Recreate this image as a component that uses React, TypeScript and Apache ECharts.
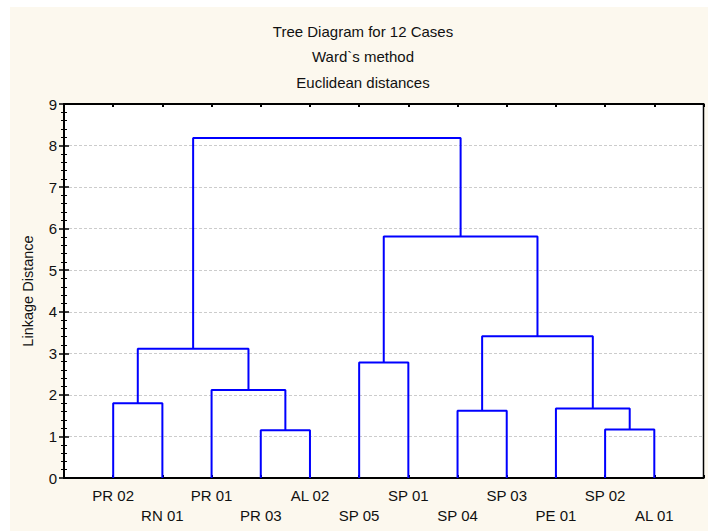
import React, { useEffect, useRef } from "react";
import * as echarts from "echarts";

const titleLines = ["Tree Diagram for 12 Cases", "Ward`s method", "Euclidean distances"];
const leaves = ["PR 02", "RN 01", "PR 01", "PR 03", "AL 02", "SP 05", "SP 01", "SP 04", "SP 03", "PE 01", "SP 02", "AL 01"];
// merges: cluster ids 0..11 are leaves, merge k creates cluster 12+k
const mergeLeft = [3, 10, 7, 9, 0, 2, 5, 16, 14, 18, 19];
const mergeRight = [4, 11, 8, 13, 1, 12, 6, 17, 15, 20, 21];
const mergeHeight = [1.15, 1.17, 1.62, 1.67, 1.8, 2.12, 2.78, 3.11, 3.41, 5.81, 8.18];
const yTicks = [0, 1, 2, 3, 4, 5, 6, 7, 8, 9];

export default function App() {
  const ref = useRef<HTMLDivElement>(null);
  useEffect(() => {
    if (!ref.current) return;
    const chart = echarts.init(ref.current, null, { renderer: "svg" });
    const n = leaves.length;
    const xs: number[] = leaves.map((_, i) => i + 1);
    const hs: number[] = leaves.map(() => 0);
    const series: any[] = [];
    mergeLeft.forEach((l, k) => {
      const r = mergeRight[k];
      const h = mergeHeight[k];
      series.push({
        type: "line",
        xAxisIndex: 0,
        yAxisIndex: 0,
        data: [
          [xs[l], hs[l]],
          [xs[l], h],
          [xs[r], h],
          [xs[r], hs[r]],
        ],
        symbol: "none",
        lineStyle: { color: "#0000ff", width: 2 },
        silent: true,
        z: 3,
      });
      xs.push((xs[l] + xs[r]) / 2);
      hs.push(h);
    });
    const font = "Arial, 'Liberation Sans', sans-serif";
    const minorTick = { show: true, splitNumber: 5, length: 3, lineStyle: { color: "#000", width: 1 } };
    chart.setOption({
      animation: false,
      backgroundColor: "#fcf8ee",
      graphic: titleLines.map((t, i) => ({
        type: "text",
        x: 353,
        y: 24 + i * 25.5,
        style: {
          text: t,
          font: `15px ${font}`,
          fill: "#111",
          textAlign: "center",
          textVerticalAlign: "middle",
        },
      })),
      grid: {
        left: 54,
        top: 97,
        right: 4.5,
        bottom: 53,
        show: true,
        backgroundColor: "#ffffff",
        borderColor: "#000",
        borderWidth: 1.5,
      },
      xAxis: [
        {
          type: "value",
          min: 0,
          max: n + 1,
          interval: 1,
          position: "bottom",
          axisLine: { show: true, onZero: false, lineStyle: { color: "#000", width: 2 } },
          axisTick: { show: true, inside: true, length: 3, lineStyle: { color: "#000", width: 2 } },
          splitLine: { show: false },
          axisLabel: {
            margin: 7,
            fontFamily: font,
            fontSize: 15,
            color: "#111",
            lineHeight: 20,
            showMinLabel: true,
            showMaxLabel: true,
            formatter: (v: number) => {
              const i = Math.round(v) - 1;
              if (i < 0 || i >= n) return "";
              return i % 2 === 0 ? leaves[i] : "\n" + leaves[i];
            },
          },
        },
        {
          type: "value",
          min: 0,
          max: n + 1,
          interval: 1,
          position: "top",
          axisLine: { show: true, onZero: false, lineStyle: { color: "#000", width: 2 } },
          axisTick: { show: true, inside: true, length: 3, lineStyle: { color: "#000", width: 2 } },
          axisLabel: { show: false },
          splitLine: { show: false },
        },
      ],
      yAxis: [
        {
          type: "value",
          min: 0,
          max: 9,
          interval: 1,
          name: "Linkage Distance",
          nameLocation: "middle",
          nameGap: 29,
          nameTextStyle: { fontFamily: font, fontSize: 14.5, color: "#111" },
          axisLine: { show: true, lineStyle: { color: "#000", width: 2 } },
          axisTick: { show: true, inside: true, length: 5, lineStyle: { color: "#000", width: 1.5 } },
          minorTick,
          axisLabel: {
            margin: 7,
            fontFamily: font,
            fontSize: 15,
            color: "#111",
            formatter: (v: number) => (yTicks.includes(v) ? String(v) : ""),
          },
          splitLine: { show: true, lineStyle: { color: "#cccccc", type: [3, 2], width: 1 } },
        },
        {
          type: "value",
          min: 0,
          max: 9,
          interval: 1,
          position: "right",
          axisLine: { show: true, lineStyle: { color: "#000", width: 2 } },
          axisTick: { show: true, inside: true, length: 5, lineStyle: { color: "#000", width: 1.5 } },
          minorTick,
          axisLabel: { show: false },
          splitLine: { show: false },
        },
      ],
      series,
    });
    return () => chart.dispose();
  }, []);
  return (
    <div style={{ position: "absolute", left: 0, top: 0, width: 708, height: 531, background: "#ffffff" }}>
      <div ref={ref} style={{ position: "absolute", left: 10, top: 7, width: 698, height: 524 }} />
    </div>
  );
}
